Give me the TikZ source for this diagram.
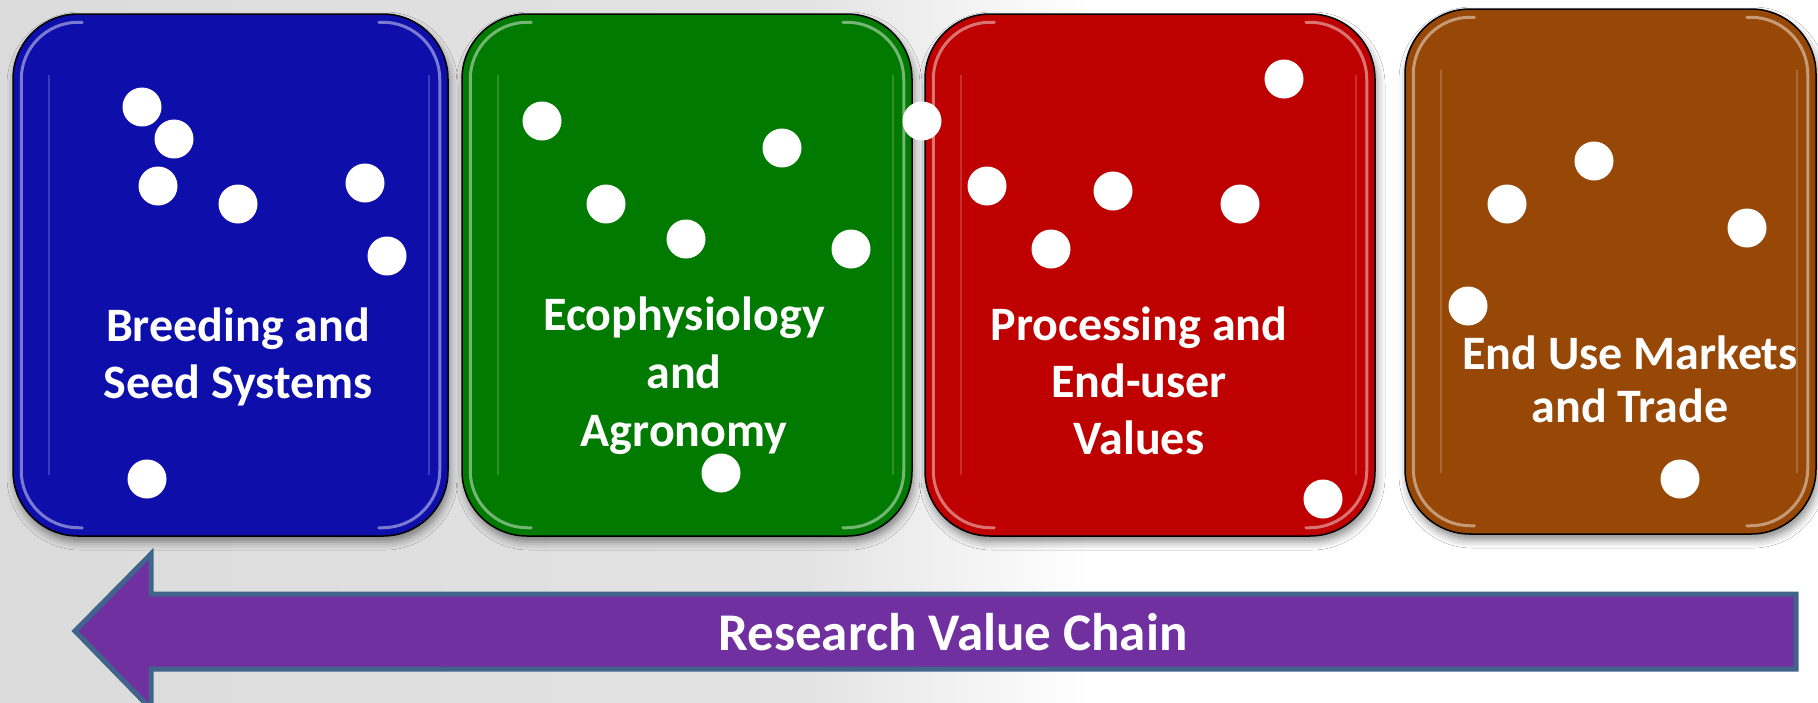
\documentclass[tikz,border=0pt]{standalone}
\usepackage{fontspec}
\setmainfont{Carlito}
\usetikzlibrary{shadows.blur,calc}
\definecolor{blueBox}{RGB}{14,14,170}
\definecolor{greenBox}{RGB}{0,122,0}
\definecolor{redBox}{RGB}{190,0,0}
\definecolor{brownBox}{RGB}{151,72,7}
\definecolor{arrowFill}{RGB}{112,48,160}
\definecolor{arrowEdge}{RGB}{65,100,140}
\pgfdeclarehorizontalshading{bgfade}{100bp}{color(0bp)=(black!14); color(25bp)=(black!14); color(62bp)=(black!11); color(75bp)=(white); color(100bp)=(white)}
\begin{document}
\begin{tikzpicture}[x=1pt,y=-1pt,
  card/.style={draw=black, line width=1.5pt, rounded corners=65pt, inner sep=0pt,
    blur shadow={shadow xshift=2pt, shadow yshift=-6pt, shadow blur radius=8pt, shadow opacity=45}},
  rim/.style={draw=white, draw opacity=0.45, line width=3pt, rounded corners=57pt, line cap=round},
  faint/.style={draw=white, draw opacity=0.18, line width=2pt},
  dot/.style={circle, fill=white, minimum size=39pt, inner sep=0pt},
  lbl/.style={text=white, font=\fontsize{48}{57}\selectfont\bfseries, align=center},
  chain/.style={fill=arrowFill, draw=arrowEdge, line width=5pt, line join=miter},
  chainlbl/.style={text=white, font=\fontsize{53}{60}\selectfont\bfseries}
]
\clip (0,0) rectangle (1818,702);
\fill[white] (0,0) rectangle (1818,702);
\shade[shading=bgfade] (0,0) rectangle (1090,702);

% cards
\node[card, fill=blueBox,  minimum width=435pt, minimum height=522pt] (b1) at (230.5,275) {};
\node[card, fill=greenBox, minimum width=450pt, minimum height=522pt] (b2) at (687,275) {};
\node[card, fill=redBox,   minimum width=450pt, minimum height=522pt] (b3) at (1150,275) {};
\node[card, fill=brownBox, minimum width=411pt, minimum height=525pt] (b4) at (1610.5,271.5) {};

% glossy bevel highlights
\foreach \b in {b1,b2,b3,b4}{
  \draw[rim] ($(\b.north west)+(70,9)$) -- ($(\b.north west)+(9,9)$) -- ($(\b.south west)+(9,-9)$) -- ($(\b.south west)+(70,-9)$);
  \draw[rim] ($(\b.north east)+(-70,9)$) -- ($(\b.north east)+(-9,9)$) -- ($(\b.south east)+(-9,-9)$) -- ($(\b.south east)+(-70,-9)$);
  \draw[faint] ($(\b.north west)+(37,62)$) -- ($(\b.south west)+(37,-62)$);
  \draw[faint] ($(\b.north east)+(-20,62)$) -- ($(\b.south east)+(-20,-62)$);
}

% labels
\node[lbl] (t1) at (238,357) {Breeding and\\Seed Systems};
\node[lbl, font=\fontsize{48}{58}\selectfont\bfseries] (t2) at (684,376) {Ecophysiology\\and\\Agronomy};
\node[lbl] (t3) at (1139,381) {Processing and\\End-user\\Values};
\node[lbl, font=\fontsize{48}{53}\selectfont\bfseries] (t4) at (1630,379) {End Use Markets\\and Trade};

% dots - blue
\node[dot] (d1) at (142,107) {};
\node[dot] (d2) at (174,139) {};
\node[dot] (d3) at (158,186) {};
\node[dot] (d4) at (238,204) {};
\node[dot] (d5) at (365,183) {};
\node[dot] (d6) at (387,256) {};
\node[dot] (d7) at (147,479) {};
% dots - green
\node[dot] (d8)  at (542,121) {};
\node[dot] (d9)  at (782,148) {};
\node[dot] (d10) at (606,204) {};
\node[dot] (d11) at (686,239) {};
\node[dot] (d12) at (851,249) {};
\node[dot] (d13) at (721,473) {};
\node[dot] (d14) at (922,121) {};
% dots - red
\node[dot] (d15) at (1284,79) {};
\node[dot] (d16) at (987,186) {};
\node[dot] (d17) at (1113,191) {};
\node[dot] (d18) at (1240,204) {};
\node[dot] (d19) at (1051,249) {};
\node[dot] (d20) at (1323,499) {};
% dots - brown
\node[dot] (d21) at (1594,161) {};
\node[dot] (d22) at (1507,204) {};
\node[dot] (d23) at (1747,228) {};
\node[dot] (d24) at (1468,306) {};
\node[dot] (d25) at (1680,479) {};

% research value chain arrow
\draw[chain] (75,631) -- (151,554) -- (151,594) -- (1796,594) -- (1796,669) -- (151,669) -- (151,709) -- cycle;
\node[chainlbl] (rvc) at (953,632) {Research Value Chain};
\end{tikzpicture}
\end{document}
